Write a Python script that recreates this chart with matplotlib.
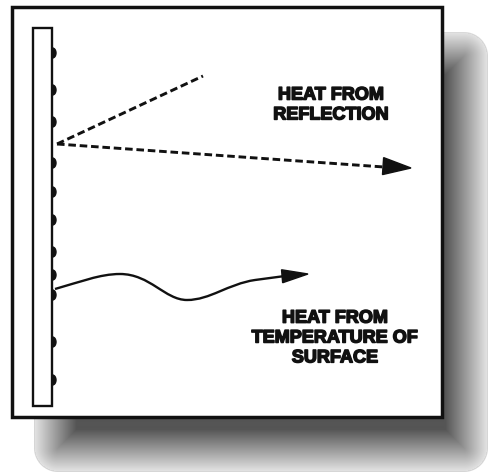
import numpy as np
import matplotlib
matplotlib.use("Agg")
import matplotlib.pyplot as plt
import matplotlib.patheffects as pe
from matplotlib.patches import Rectangle, Ellipse, Polygon, PathPatch
from matplotlib.path import Path

# diagram geometry (pixel coordinates, y grows downwards)
frame = (12, 7, 430, 410)          # x, y, w, h
shadow_box = (34, 33, 454, 439)    # x, y, w, h
wall = (33, 28, 19, 378)
bump_y = [53, 90, 122, 163, 192, 220, 252, 275, 295, 342, 380]

ray_origin = (57, 144)
ray_up_end = (203, 76)
ray_out_end = (411, 168)

wave_pts = [(55, 289),
            (80, 282), (100, 274), (120, 274),
            (150, 274), (165, 300), (187, 300),
            (210, 300), (228, 284), (255, 280),
            (270, 278), (285, 276), (290, 276)]
wave_tip = (308, 274)

label_top = "HEAT FROM\nREFLECTION"
label_top_pos = (331, 105)
label_bottom = "HEAT FROM\nTEMPERATURE OF\nSURFACE"
label_bottom_pos = (335, 338)

W, H = 488, 473


def arrow_head(ax, tail, tip, length, width):
    tail = np.array(tail, float)
    tip = np.array(tip, float)
    d = tip - tail
    d /= np.hypot(*d)
    n = np.array([-d[1], d[0]])
    base = tip - d * length
    pts = [tip, base + n * width / 2, base - n * width / 2]
    ax.add_patch(Polygon(pts, closed=True, color="#111111", zorder=6))


fig = plt.figure(figsize=(W / 100, H / 100), dpi=100)
ax = fig.add_axes([0, 0, 1, 1])
ax.set_xlim(0, W)
ax.set_ylim(H, 0)
ax.axis("off")

# drop shadow: rounded rectangle, darker the deeper inside
yy, xx = np.mgrid[0:H, 0:W] + 0.5
sx, sy, sw, sh = shadow_box
r = 24
cx, cy = sx + sw / 2, sy + sh / 2
qx = np.abs(xx - cx) - sw / 2 + r
qy = np.abs(yy - cy) - sh / 2 + r
dist = np.hypot(np.maximum(qx, 0), np.maximum(qy, 0)) + np.minimum(np.maximum(qx, qy), 0) - r
depth = -dist
gray = np.clip(230 - 3.4 * depth, 85, 230) / 255
img = np.zeros((H, W, 4))
img[..., 0] = gray
img[..., 1] = gray
img[..., 2] = gray
img[..., 3] = np.clip(depth + 0.5, 0, 1)
edge = (depth > -0.5) & (depth < 1.2)
img[edge, :3] = 0.84
ax.imshow(img, extent=(0, W, H, 0), zorder=1, interpolation="bilinear")

# frame
fx, fy, fw, fh = frame
ax.add_patch(Rectangle((fx, fy), fw, fh, facecolor="white", edgecolor="#111111",
                       linewidth=2.5, zorder=2))

# wall with bumps
wx, wy, ww, wh = wall
for y in bump_y:
    ax.add_patch(Ellipse((wx + ww + 0.5, y), 7, 10, color="#111111", zorder=3))
ax.add_patch(Rectangle((wx, wy), ww, wh, facecolor="white", edgecolor="#111111",
                       linewidth=1.7, zorder=4))

# reflected rays
dash = (0, (2.6, 1.3))
ax.plot([ray_origin[0], ray_up_end[0]], [ray_origin[1], ray_up_end[1]],
        color="#111111", lw=2.1, linestyle=dash, zorder=5)
ray_line_end = (ray_out_end[0] - 27, ray_out_end[1] - 1)
ax.plot([ray_origin[0], ray_line_end[0]], [ray_origin[1], ray_line_end[1]],
        color="#111111", lw=2.1, linestyle=dash, zorder=5)
arrow_head(ax, ray_origin, ray_out_end, 28, 17)

# emitted heat wave
codes = [Path.MOVETO] + [Path.CURVE4] * 9 + [Path.LINETO] * 3
ax.add_patch(PathPatch(Path(wave_pts, codes), facecolor="none", edgecolor="#111111",
                       linewidth=1.7, zorder=5))
arrow_head(ax, wave_pts[-2], wave_tip, 26, 13)

# labels
font = dict(family="Liberation Sans", fontweight="bold", fontsize=13.0,
            color="#111111", ha="center", va="center", linespacing=1.22, zorder=7)
heavy = [pe.withStroke(linewidth=1.1, foreground="#111111")]
ax.text(*label_top_pos, label_top, path_effects=heavy, **font)
ax.text(*label_bottom_pos, label_bottom, path_effects=heavy, **font)

fig.savefig("out.png", dpi=100)
